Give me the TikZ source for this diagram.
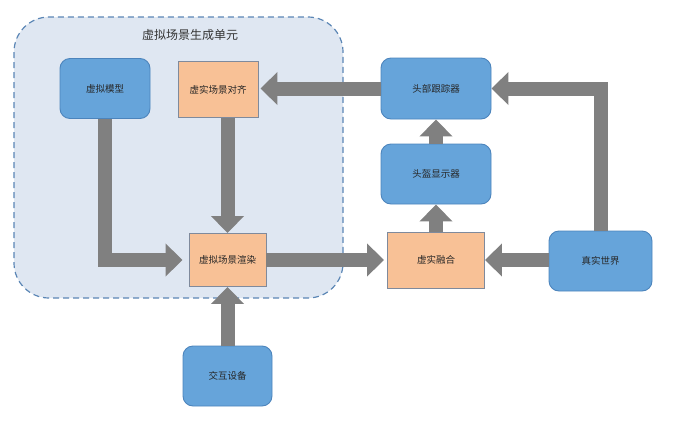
\documentclass[tikz,border=0pt]{standalone}
\usepackage{fontspec}
\newfontfamily\cjk{Noto Sans CJK SC}
\usetikzlibrary{arrows.meta}
\definecolor{unitfill}{HTML}{DFE7F2}
\definecolor{unitline}{HTML}{5B86B5}
\definecolor{boxblue}{HTML}{66A4DA}
\definecolor{boxblueline}{HTML}{4C84BC}
\definecolor{boxorange}{HTML}{F8C196}
\definecolor{boxorangeline}{HTML}{7F8A9C}
\definecolor{flowgray}{HTML}{808080}

\begin{document}
\begin{tikzpicture}[x=1pt,y=-1pt]
    \useasboundingbox (0,0) rectangle (678,426);
    % scene generation unit
    \draw[unitline, fill=unitfill, line width=1.2pt, dash pattern=on 6pt off 4pt, rounded corners=35pt]
        (14,17) rectangle (343,298);
    \node[font=\cjk\fontsize{12}{14}\selectfont, text=black!80] (unit) at (190,35) {虚拟场景生成单元};
    \begin{scope}[every node/.style={font=\cjk\fontsize{9.5}{12}\selectfont, text=black!85, line width=0.9pt, inner sep=0pt}]
        \node[fill=boxblue, draw=boxblueline, rounded corners=10pt, minimum width=90pt, minimum height=60pt] (model) at (105,88.5) {虚拟模型};
        \node[fill=boxorange, draw=boxorangeline, minimum width=80pt, minimum height=56pt] (align) at (218,89.5) {虚实场景对齐};
        \node[fill=boxorange, draw=boxorangeline, minimum width=77pt, minimum height=53pt] (render) at (227.5,260) {虚拟场景渲染};
        \node[fill=boxblue, draw=boxblueline, rounded corners=10pt, minimum width=110pt, minimum height=61pt] (tracker) at (436,88.5) {头部跟踪器};
        \node[fill=boxblue, draw=boxblueline, rounded corners=10pt, minimum width=110pt, minimum height=60pt] (helmet) at (436,174) {头盔显示器};
        \node[fill=boxorange, draw=boxorangeline, minimum width=97pt, minimum height=56pt] (fusion) at (436,260) {虚实融合};
        \node[fill=boxblue, draw=boxblueline, rounded corners=10pt, minimum width=103pt, minimum height=60pt] (real) at (600.5,261) {真实世界};
        \node[fill=boxblue, draw=boxblueline, rounded corners=10pt, minimum width=89pt, minimum height=60pt] (device) at (227.5,376) {交互设备};
    \end{scope}
    \begin{scope}[flow/.style={draw=flowgray, line width=14pt, -{Triangle[length=17pt,width=32pt]}}]
        \path[flow] (model.south) |- ([xshift=-6pt]render.west);
        \path[flow] (align.south -| render.north) -- (render.north);
        \path[flow] (device.north) -- (render.south);
        \path[flow] (tracker.west) -- ([xshift=2pt]align.east |- tracker.west);
        \path[flow] (render.east) -- ([xshift=-3pt]fusion.west);
        \path[flow] (real.west |- fusion.east) -- (fusion.east);
        \path[flow] (fusion.north) -- (helmet.south);
        \path[flow] (helmet.north) -- (tracker.south);
        \path[flow] (real.north) |- (tracker.east);
    \end{scope}
\end{tikzpicture}
\end{document}
